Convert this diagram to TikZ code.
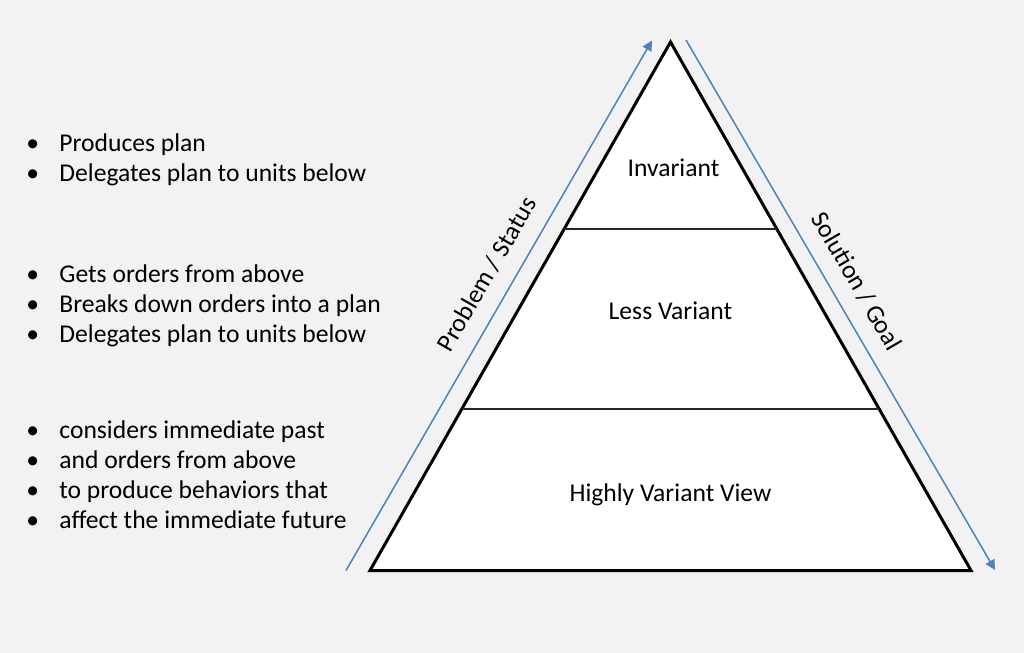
\documentclass[tikz,border=0pt]{standalone}
\usepackage{fontspec}
\setmainfont{Carlito}
\usetikzlibrary{arrows.meta, positioning, calc}
\definecolor{bggray}{HTML}{F2F2F2}
\definecolor{arrowblue}{HTML}{4F81BD}
\tikzstyle{bullets} = [anchor=base west, align=left, inner sep=0pt, font=\fontsize{12.8}{15}\selectfont]
\tikzstyle{level} = [anchor=base, inner sep=0pt, font=\fontsize{12.8}{15}\selectfont]
\tikzstyle{sidelabel} = [sloped, above, text=black, inner sep=8pt, font=\fontsize{12.8}{15}\selectfont]
\tikzstyle{flow} = [arrowblue, line width=0.75pt, -{Triangle[length=5pt,width=5pt]}]
\tikzstyle{divider} = [black!85, line width=0.75pt]
\newcommand{\itm}[1]{\makebox[16.5pt][l]{\textbullet}#1}

\begin{document}
\begin{tikzpicture}[x=0.5pt, y=-0.5pt]

        % Background
        \fill[bggray] (0,0) rectangle (1024,653);

        % Pyramid
        \coordinate (apex) at (670.5,42);
        \coordinate (bl) at (370,570.5);
        \coordinate (br) at (971,570.5);
        \draw[fill=white, line width=1.5pt, line join=miter] (apex) -- (bl) -- (br) -- cycle;

        % Dividers
        \draw[divider] ($(apex)!0.3535!(bl)$) -- ($(apex)!0.3535!(br)$);
        \draw[divider] ($(apex)!0.6940!(bl)$) -- ($(apex)!0.6940!(br)$);

        % Level labels
        \node[level] (invariant) at (673.5,176) {Invariant};
        \node[level] (less) at (670.5,319) {Less Variant};
        \node[level] (highly) at (670.5,501) {Highly Variant View};

        % Side arrows
        \coordinate (upstart) at (346,570.5);
        \coordinate (upend) at (652,40.5);
        \coordinate (downstart) at (686,40);
        \coordinate (downend) at (995,570);
        \draw[flow] (upstart) -- (upend)
        node[sidelabel, pos=0.535] (problem) {Problem / Status};
        \draw[flow] (downstart) -- (downend)
        node[sidelabel, pos=0.48] (solution) {Solution / Goal};

        % Bullet lists (base = last line)
        \node[bullets] (plan) at (26,181) {\itm{Produces plan}\\\itm{Delegates plan to units below}};
        \node[bullets] (orders) at (26,342) {\itm{Gets orders from above}\\\itm{Breaks down orders into a plan}\\\itm{Delegates plan to units below}};
        \node[bullets] (behave) at (26,528) {\itm{considers immediate past}\\\itm{and orders from above}\\\itm{to produce behaviors that}\\\itm{affect the immediate future}};
    \end{tikzpicture}
\end{document}
